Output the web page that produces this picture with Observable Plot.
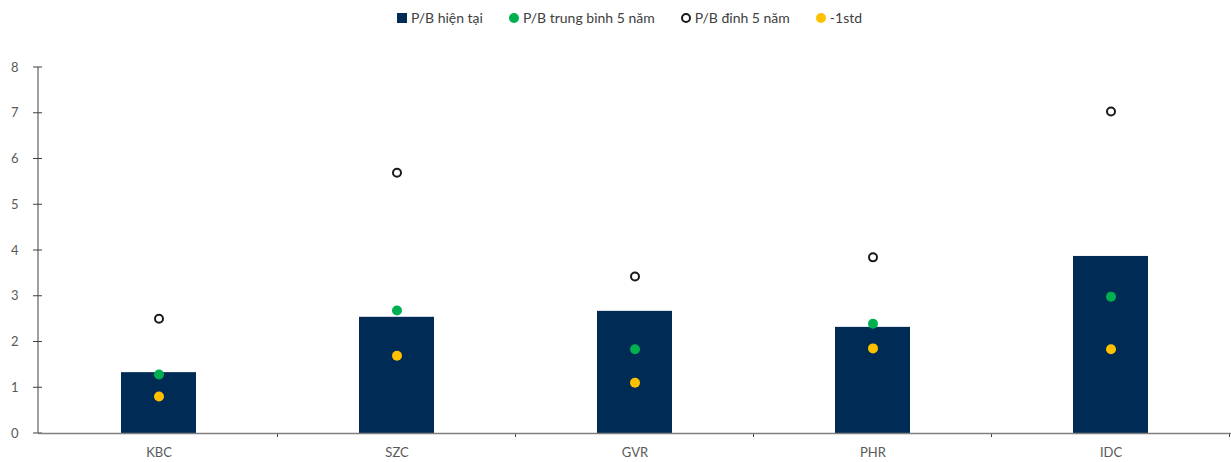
<!DOCTYPE html>
<html>
<head>
<meta charset="utf-8">
<script src="https://cdn.jsdelivr.net/npm/d3@7"></script>
<script src="https://cdn.jsdelivr.net/npm/@observablehq/plot@0.6"></script>
<style>
  html, body { margin: 0; padding: 0; background: #fff; }
  body { width: 1231px; height: 462px; overflow: hidden; font-family: "Source Sans Pro", Lato, "Noto Sans", sans-serif; }
  #legend { height: 35px; display: flex; justify-content: center; align-items: center; gap: 26px; font-size: 14px; color: #404040; padding-left: 28px; box-sizing: border-box; }
  .item { display: flex; align-items: center; gap: 4px; }
  .sq { width: 10px; height: 10px; background: #002b55; }
  .dot { width: 10px; height: 10px; border-radius: 50%; box-sizing: border-box; }
</style>
</head>
<body>
<div id="legend"></div>
<div id="chart"></div>
<script>
const categories = ["KBC", "SZC", "GVR", "PHR", "IDC"];
const pbCurrent = [1.33, 2.54, 2.67, 2.32, 3.87];
const pbAvg5y   = [1.29, 2.69, 1.84, 2.40, 2.99];
const pbPeak5y  = [2.51, 5.70, 3.43, 3.85, 7.04];
const minus1std = [0.81, 1.70, 1.11, 1.86, 1.84];
const yTicks = [0, 1, 2, 3, 4, 5, 6, 7, 8];
const seriesNames = ["P/B hiện tại", "P/B trung bình 5 năm", "P/B đỉnh 5 năm", "-1std"];

const colors = { bar: "#002b55", avg: "#00b050", peak: "#1a1a1a", std: "#ffc000" };

// legend
const legend = document.getElementById("legend");
const markers = [
  '<span class="sq"></span>',
  `<span class="dot" style="background:${colors.avg}"></span>`,
  `<span class="dot" style="background:#fff;border:2px solid ${colors.peak}"></span>`,
  `<span class="dot" style="background:${colors.std}"></span>`
];
seriesNames.forEach((n, i) => {
  const el = document.createElement("span");
  el.className = "item";
  el.innerHTML = markers[i] + `<span>${n}</span>`;
  legend.appendChild(el);
});

const data = categories.map((c, i) => ({
  cat: c, cur: pbCurrent[i], avg: pbAvg5y[i], peak: pbPeak5y[i], std: minus1std[i]
}));

// y axis line with crossing ticks, and band-boundary ticks on the x axis
function axisLines(index, scales, values, dims) {
  const x = scales.x, y = scales.y;
  const step = x.step ? x.step() : x.bandwidth();
  const bw = x.bandwidth();
  const x0 = dims.marginLeft;
  const y0 = y(0);
  const g = d3.create("svg:g").attr("stroke", "#404040").attr("stroke-width", 1);
  g.append("line").attr("x1", x0).attr("x2", x0).attr("y1", y(8)).attr("y2", y0);
  yTicks.forEach(t => {
    g.append("line").attr("x1", x0 - 5).attr("x2", x0 + 4).attr("y1", y(t)).attr("y2", y(t));
  });
  categories.forEach(c => {
    const b = x(c) + bw / 2 + step / 2;
    if (b < dims.width - dims.marginRight - 1) {
      g.append("line").attr("x1", b).attr("x2", b).attr("y1", y0).attr("y2", y0 + 4);
    }
  });
  return g.node();
}

const chart = Plot.plot({
  width: 1231,
  height: 427,
  marginLeft: 38,
  marginRight: 0,
  marginTop: 32,
  marginBottom: 29,
  style: { fontFamily: '"Source Sans Pro", Lato, "Noto Sans", sans-serif', fontSize: "13px", color: "#595959", background: "#fff" },
  x: { domain: categories, paddingInner: 0.686, paddingOuter: 0.343, label: null },
  y: { domain: [0, 8], label: null },
  marks: [
    Plot.barY(data, { x: "cat", y: "cur", fill: colors.bar }),
    Plot.axisY({ ticks: yTicks, tickSize: 0, tickPadding: 20, fill: "#595959", fontSize: 13 }),
    Plot.axisX({ tickSize: 0, tickPadding: 14, fill: "#595959", fontSize: 13 }),
    axisLines,
    Plot.ruleY([0], { stroke: "#7f7f7f", strokeWidth: 1.5 }),
    Plot.dot(data, { x: "cat", y: "avg", r: 5, fill: colors.avg }),
    Plot.dot(data, { x: "cat", y: "std", r: 5, fill: colors.std }),
    Plot.dot(data, { x: "cat", y: "peak", r: 4, fill: "#fff", stroke: colors.peak, strokeWidth: 2 })
  ]
});
document.getElementById("chart").appendChild(chart);
</script>
</body>
</html>
